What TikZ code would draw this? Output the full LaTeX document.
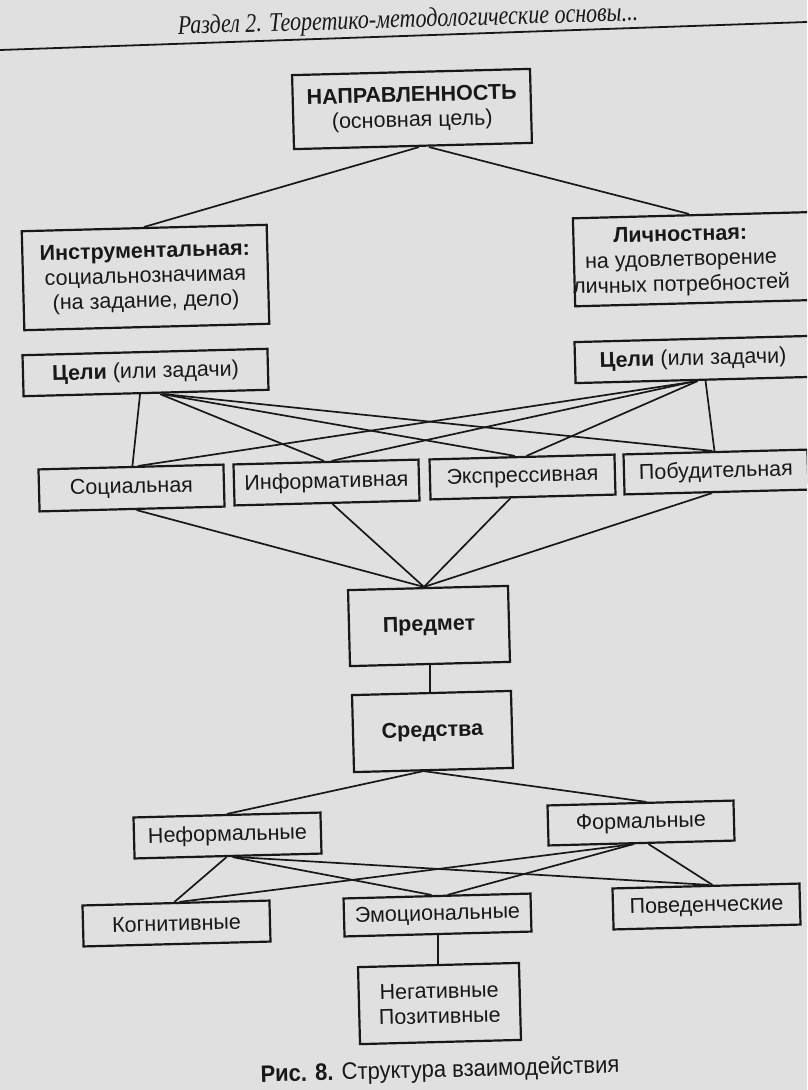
\documentclass[tikz,border=0pt]{standalone}
\usepackage{fontspec}
\setmainfont{Liberation Sans}
\newfontfamily\hdrfont{Liberation Serif}
\usetikzlibrary{calc}
\definecolor{paper}{HTML}{E0E0E0}
\definecolor{ink}{HTML}{181818}
\begin{document}
\begin{tikzpicture}[x=1pt,y=-1pt,
  box/.style={draw=ink, line width=2.2pt, rotate=1.5, inner sep=0pt, font=\fontsize{21.5}{25}\selectfont, text=ink, align=center},
  plain/.style={rotate=1.5, inner sep=0pt, font=\fontsize{21.5}{25}\selectfont, text=ink, align=center},
  conn/.style={draw=ink, line width=1.7pt}]
\fill[paper] (0,0) rectangle (807,1090);
\useasboundingbox (0,0) rectangle (807,1090);
\clip (0,0) rectangle (807,1090);

% header
\node[plain, rotate=0.2, font=\hdrfont\itshape\fontsize{22}{24}\selectfont] (hdr) at (408,21) {\scalebox{1}[1.22]{Раздел 2. Теоретико-методологические основы...}};
\coordinate (ruleL) at (0,50);
\coordinate (ruleR) at (807,22);
\draw[ink, line width=1.8pt] (ruleL) -- (ruleR);

% boxes
\node[box, minimum width=238pt, minimum height=74pt] (napr) at (412,109) {\textbf{НАПРАВЛЕННОСТЬ}\\(основная цель)};
\node[box, minimum width=245pt, minimum height=99pt] (instr) at (145.5,277.5) {\textbf{Инструментальная:}\\социальнозначимая\\(на задание, дело)};
\node[box, minimum width=252pt, minimum height=88pt] (lichn) at (700,259) {};
\node[plain] (lichnT) at (681,261) {\textbf{Личностная:}\\на удовлетворение\\личных потребностей};
\node[box, minimum width=245pt, minimum height=41pt] (celiL) at (145.5,372.5) {\textbf{Цели} (или задачи)};
\node[box, minimum width=236pt, minimum height=41pt] (celiR) at (693,359.5) {\textbf{Цели} (или задачи)};

\node[box, minimum width=185pt, minimum height=42pt] (soc) at (131.5,488) {Социальная};
\node[box, minimum width=185pt, minimum height=41pt] (inf) at (326.5,482.5) {Информативная};
\node[box, minimum width=185pt, minimum height=40pt] (exp) at (522.5,477) {Экспрессивная};
\node[box, minimum width=184pt, minimum height=40pt] (pob) at (716,472) {Побудительная};

\node[box, minimum width=160pt, minimum height=76pt] (predmet) at (429,626) {\textbf{Предмет}};
\node[box, minimum width=159pt, minimum height=77pt] (sredstva) at (432.5,731.5) {\textbf{Средства}};

\node[box, minimum width=187pt, minimum height=41pt] (neform) at (227.5,835.5) {Неформальные};
\node[box, minimum width=186pt, minimum height=40pt] (form) at (641,823) {Формальные};
\node[box, minimum width=187pt, minimum height=41pt] (kogn) at (176.5,923.5) {Когнитивные};
\node[box, minimum width=187pt, minimum height=38pt] (emoc) at (437.5,915) {Эмоциональные};
\node[box, minimum width=187pt, minimum height=41pt] (pov) at (706.5,906.5) {Поведенческие};
\node[box, minimum width=161pt, minimum height=77pt] (neg) at (439.5,1003.5) {Негативные\\Позитивные};

% caption
\node[plain, font=\fontsize{22}{24}\selectfont] (cap) at (440,1071) {\scalebox{1}[1.08]{\textbf{Рис. 8.} Структура взаимодействия}};

% connectors
\draw[conn] ([xshift=6pt]napr.south) -- (instr.north);
\draw[conn] ([xshift=16pt]napr.south) -- ([xshift=-10pt]lichn.north);

\draw[conn] ([xshift=-6pt]celiL.south) -- ([xshift=1.5pt]soc.north);
\draw[conn] ([xshift=14pt]celiL.south) -- ([xshift=-2pt]inf.north);
\draw[conn] ([xshift=16pt]celiL.south) -- ([xshift=-7pt]exp.north);
\draw[conn] ([xshift=18pt]celiL.south) -- ([xshift=-3pt]pob.north);

\draw[conn] ([xshift=4pt]celiR.south) -- ([xshift=7.5pt]soc.north);
\draw[conn] ([xshift=2pt]celiR.south) -- ([xshift=5.5pt]inf.north);
\draw[conn] ([xshift=4pt]celiR.south) -- ([xshift=4.5pt]exp.north);
\draw[conn] ([xshift=12pt]celiR.south) -- ([xshift=-1pt]pob.north);

\draw[conn] ([xshift=4.5pt]soc.south) -- ([xshift=-4pt]predmet.north);
\draw[conn] ([xshift=5.5pt]inf.south) -- ([xshift=-4pt]predmet.north);
\draw[conn] ([xshift=-12.5pt]exp.south) -- ([xshift=-4pt]predmet.north);
\draw[conn] ([xshift=-4.5pt]pob.south) -- ([xshift=-4pt]predmet.north);

\draw[conn] (predmet.south) -- (predmet.south |- sredstva.north);

\draw[conn] ([xshift=-10pt]sredstva.south) -- (neform.north);
\draw[conn] ([xshift=-10pt]sredstva.south) -- ([xshift=6pt]form.north);

\draw[conn] ([xshift=-1.5pt]neform.south) -- ([xshift=-1.5pt]kogn.north);
\draw[conn] ([xshift=4.5pt]neform.south) -- ([xshift=-5.5pt]emoc.north);
\draw[conn] ([xshift=9.5pt]neform.south) -- ([xshift=3.5pt]pov.north);

\draw[conn] ([xshift=-8pt]form.south) -- ([xshift=3.5pt]kogn.north);
\draw[conn] ([xshift=-8pt]form.south) -- ([xshift=10.5pt]emoc.north);
\draw[conn] ([xshift=7pt]form.south) -- ([xshift=6.5pt]pov.north);

\draw[conn] (emoc.south) -- (emoc.south |- neg.north);
\end{tikzpicture}
\end{document}
